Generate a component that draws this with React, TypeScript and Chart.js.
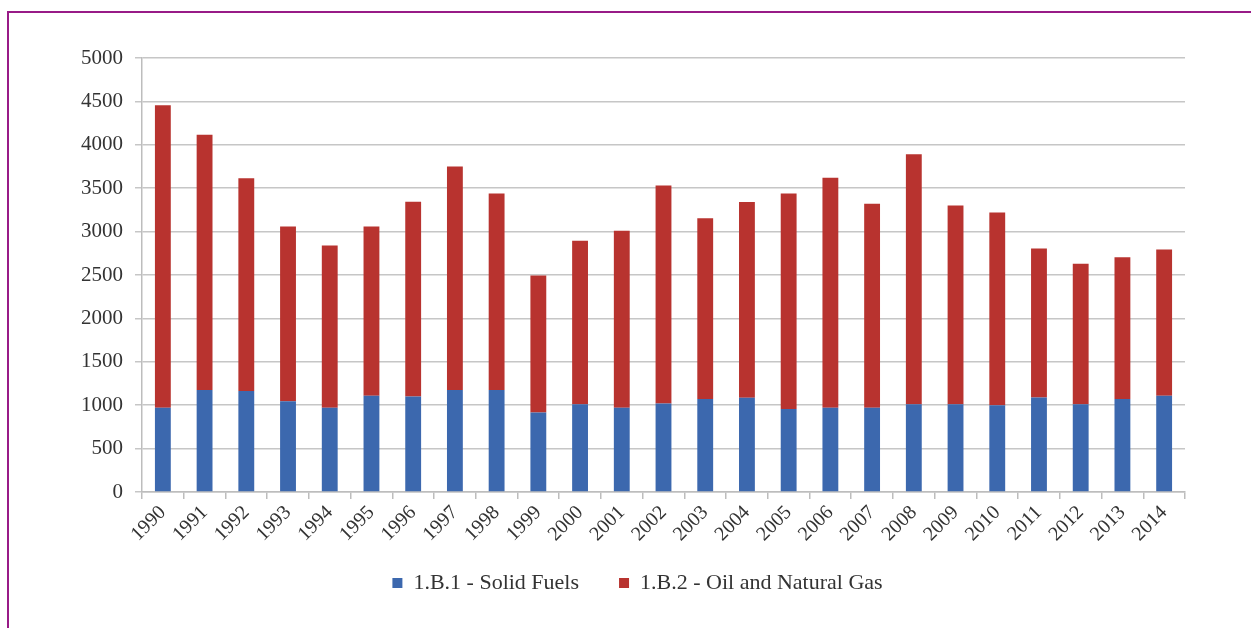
import React, { useEffect, useRef } from "react";
import { Chart, registerables } from "chart.js";

Chart.register(...registerables);

const years = [
  "1990", "1991", "1992", "1993", "1994", "1995", "1996", "1997", "1998", "1999",
  "2000", "2001", "2002", "2003", "2004", "2005", "2006", "2007", "2008", "2009",
  "2010", "2011", "2012", "2013", "2014",
];

const solidFuels = [
  970, 1175, 1165, 1045, 970, 1110, 1100, 1175, 1175, 915,
  1010, 970, 1020, 1070, 1085, 955, 970, 970, 1010, 1010,
  1000, 1090, 1010, 1070, 1110,
];

const oilAndGas = [
  3485, 2940, 2450, 2015, 1870, 1950, 2245, 2575, 2265, 1580,
  1885, 2040, 2510, 2085, 2255, 2485, 2650, 2350, 2880, 2290,
  2220, 1715, 1620, 1635, 1685,
];

const yTicks = [0, 500, 1000, 1500, 2000, 2500, 3000, 3500, 4000, 4500, 5000];

const seriesNames = ["1.B.1 - Solid Fuels", "1.B.2 - Oil and Natural Gas"];

const FONT = "'Liberation Serif', 'Times New Roman', serif";

const noLabelClip = {
  id: "noLabelClip",
  beforeDraw(chart: any) {
    Object.values(chart.scales).forEach((s: any) => {
      s._computeLabelArea = () => undefined;
    });
  },
};

export default function App() {
  const canvasRef = useRef<HTMLCanvasElement | null>(null);

  useEffect(() => {
    const canvas = canvasRef.current;
    if (!canvas) return;
    const chart = new Chart(canvas, {
      type: "bar",
      plugins: [noLabelClip],
      data: {
        labels: years,
        datasets: [
          {
            label: seriesNames[0],
            data: solidFuels,
            backgroundColor: "#3c68ae",
            borderWidth: 0,
            barPercentage: 0.38,
            categoryPercentage: 1,
          },
          {
            label: seriesNames[1],
            data: oilAndGas,
            backgroundColor: "#b8332f",
            borderWidth: 0,
            barPercentage: 0.38,
            categoryPercentage: 1,
          },
        ],
      },
      options: {
        animation: false,
        responsive: false,
        maintainAspectRatio: false,
        layout: { padding: { left: 90, right: 66, top: 58, bottom: 24 } },
        plugins: {
          tooltip: { enabled: false },
          legend: {
            position: "bottom",
            labels: {
              boxWidth: 10,
              boxHeight: 10,
              padding: 40,
              color: "#333333",
              font: { family: FONT, size: 22 },
            },
          },
        },
        scales: {
          x: {
            stacked: true,
            afterFit: (s: any) => {
              s.height = 40;
            },
            grid: {
              offset: true,
              drawOnChartArea: false,
              drawTicks: true,
              tickLength: 7,
              color: "#bdbdbd",
              lineWidth: 1.5,
            },
            border: { color: "#bdbdbd", width: 1.5 },
            ticks: {
              minRotation: 45,
              maxRotation: 45,
              autoSkip: false,
              padding: 2,
              color: "#333333",
              font: { family: FONT, size: 20 },
            },
          },
          y: {
            stacked: true,
            min: 0,
            max: 5000,
            afterFit: (s: any) => {
              s.width = 52;
            },
            afterBuildTicks: (s: any) => {
              s.ticks = yTicks.map((v) => ({ value: v }));
            },
            grid: {
              color: "#c6c6c6",
              lineWidth: 1.5,
              drawTicks: true,
              tickLength: 7,
            },
            border: { color: "#bdbdbd", width: 1.5 },
            ticks: {
              padding: 12,
              color: "#333333",
              font: { family: FONT, size: 21 },
              callback: (v: any) => String(v),
            },
          },
        },
      },
    });
    return () => chart.destroy();
  }, []);

  return (
    <div>
      <div
        style={{
          position: "fixed",
          left: 7,
          top: 11,
          width: 1400,
          height: 800,
          borderTop: "2px solid #981b87",
          borderLeft: "2px solid #981b87",
          boxSizing: "border-box",
        }}
      />
      <canvas
        ref={canvasRef}
        width={1251}
        height={628}
        style={{ position: "fixed", left: 0, top: 0, width: 1251, height: 628 }}
      />
    </div>
  );
}
